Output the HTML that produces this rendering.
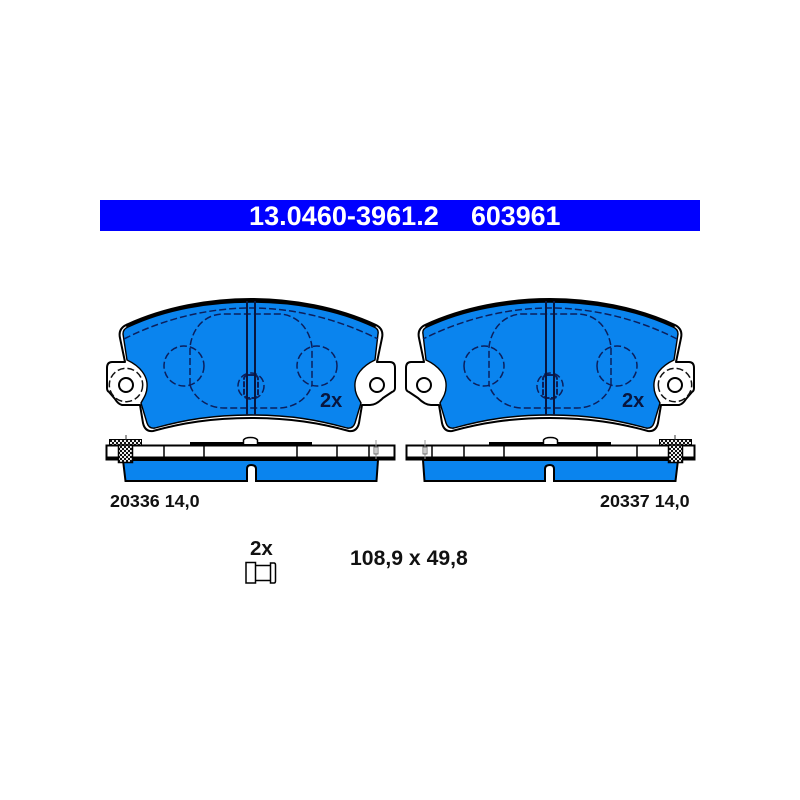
<!DOCTYPE html>
<html>
<head>
<meta charset="utf-8">
<style>
html,body{margin:0;padding:0;background:#fff;width:800px;height:800px;overflow:hidden}
svg{display:block}
text{font-family:"Liberation Sans",sans-serif;font-weight:bold}
</style>
</head>
<body>
<svg width="800" height="800" viewBox="0 0 800 800" xmlns="http://www.w3.org/2000/svg">
<defs>
<pattern id="h" width="4" height="4" patternUnits="userSpaceOnUse">
<rect width="4" height="4" fill="#111"/>
<rect x="0" y="0" width="2" height="2" fill="#eee"/>
<rect x="2" y="2" width="2" height="2" fill="#eee"/>
</pattern>
<g id="pad">
<!-- outer contour with tabs -->
<path d="M120 338 Q118 329 126 325 C165 307 210 299 251 299 C292 299 337 307 376 325 Q384 329 382 338 L377 362 L390 362 Q395 362 395 368 L395 388 Q395 391 392 392 L383 398 Q376 405 370 405 L362 405 L359 423 Q357 432 349 431 C320 423 290 418 251 418 C212 418 182 423 153 431 Q145 432 143 423 L140 405 L122 405 Q118 404 115 399 L109 392 Q107 391 107 388 L107 368 Q107 362 112 362 L125 362 Z" fill="#fff" stroke="#000" stroke-width="2" stroke-linejoin="round"/>
<!-- hidden hole circle in the tab -->
<circle cx="126" cy="385" r="16.700" fill="none" stroke="#111" stroke-width="1.500" stroke-dasharray="7 3"/>
<!-- blue friction area -->
<path d="M123 334 Q123 329 128 327 C166 309 210 302 251 302 C292 302 336 309 374 327 Q379 329 378 334 L375 360 C362 366 354 376 355 387 C355 394 359 399 361 403 L355 423 Q353 429 347 428 C318 420 290 415 251 415 C212 415 184 420 155 428 Q149 429 147 423 L141 403 C143 399 147 394 147 387 C148 376 140 366 127 360 Z" fill="#0a84ee" stroke="#000" stroke-width="1.400" stroke-linejoin="round"/>
<!-- top edge thickening -->
<path d="M126 326 C166 308 210 300.500 251 300.500 C292 300.500 336 308 376 326" fill="none" stroke="#000" stroke-width="2.500"/>
<!-- hidden lines -->
<g fill="none" stroke="#0b1f5c" stroke-width="1.500" stroke-dasharray="7 3">
<path d="M124 339 C165 318 210 308 251 308 C292 308 336 318 378 339"/>
<path d="M190 385 L190 347 C192 330 203 315 222 314 L280 314 C298 315 310 330 312 347 L312 385"/>
<path d="M190 385 C194 398 208 408 224 408 L278 408 C295 408 308 398 312 385"/>
<circle cx="184" cy="366" r="20"/>
<circle cx="317" cy="366" r="20"/>
<circle cx="251" cy="386" r="13"/>
</g>
<rect x="244" y="375" width="14" height="23" rx="4" fill="none" stroke="#0b1f5c" stroke-width="2" stroke-dasharray="6 1.500"/>
<line x1="247" y1="301" x2="247" y2="415" stroke="#08163f" stroke-width="2"/>
<line x1="255" y1="301" x2="255" y2="415" stroke="#08163f" stroke-width="2"/>
<!-- holes -->
<circle cx="126" cy="385" r="7" fill="#fff" stroke="#000" stroke-width="2"/>
<circle cx="377" cy="385" r="7" fill="#fff" stroke="#000" stroke-width="2"/>

<!-- side view -->
<path d="M123 460 L378 460 L376.500 481 L256 481 L256 469 Q256 465 251 465 Q247 465 247 469 L247 481 L125.500 481 Z" fill="#0a84ee" stroke="#000" stroke-width="2"/>
<rect x="106.500" y="445.500" width="288" height="14" fill="#fff" stroke="#000" stroke-width="2"/>
<rect x="106" y="456.500" width="289" height="4" fill="#000"/>
<rect x="190" y="442" width="122" height="2.500" fill="#000"/>
<path d="M243.500 444 L243.500 440 Q245 437.500 250.500 437.500 Q256 437.500 257.500 440 L257.500 444" fill="#fff" stroke="#000" stroke-width="1.500"/>
<g stroke="#000" stroke-width="1.500">
<line x1="164" y1="445" x2="164" y2="458"/>
<line x1="204" y1="445" x2="204" y2="458"/>
<line x1="297" y1="445" x2="297" y2="458"/>
<line x1="337" y1="445" x2="337" y2="458"/>
<line x1="369" y1="445" x2="369" y2="458"/>
</g>
<rect x="109.500" y="439.500" width="32" height="5.500" fill="url(#h)" stroke="#000" stroke-width="1"/>
<rect x="118.500" y="445" width="14" height="17.500" fill="url(#h)" stroke="#000" stroke-width="1.500"/>
<line x1="126" y1="435" x2="126" y2="440" stroke="#333" stroke-width="1"/>
<line x1="376" y1="440" x2="376" y2="459" stroke="#999" stroke-width="1"/>
<rect x="374" y="447" width="4" height="7" fill="none" stroke="#555" stroke-width="0.800"/>
</g>
</defs>

<rect x="100" y="200" width="600" height="31" fill="#0000ff"/>
<text x="249" y="225" font-size="27.100" fill="#fff">13.0460-3961.2</text>
<text x="471" y="225" font-size="26.800" fill="#fff">603961</text>

<use href="#pad"/>
<use href="#pad" transform="matrix(-1 0 0 1 801 0)"/>

<text x="320" y="407" font-size="20" fill="#08163f">2x</text>
<text x="622" y="407" font-size="20" fill="#08163f">2x</text>

<text x="110" y="507" font-size="17.900" fill="#111">20336 14,0</text>
<text x="600" y="507" font-size="17.900" fill="#111">20337 14,0</text>

<text x="250" y="555" font-size="20.500" fill="#111">2x</text>
<text x="350" y="565" font-size="21.200" fill="#111">108,9 x 49,8</text>

<g fill="#fff" stroke="#000" stroke-width="1.500">
<rect x="246" y="562.500" width="9.500" height="20.500"/>
<path d="M255.500 565.500 L270.500 565.500 M255.500 580.500 L270.500 580.500" fill="none"/>
<path d="M270.500 563 L274 563 Q275.500 563 275.500 565 L275.500 581 Q275.500 583 274 583 L270.500 583 Z"/>
</g>
</svg>
</body>
</html>
